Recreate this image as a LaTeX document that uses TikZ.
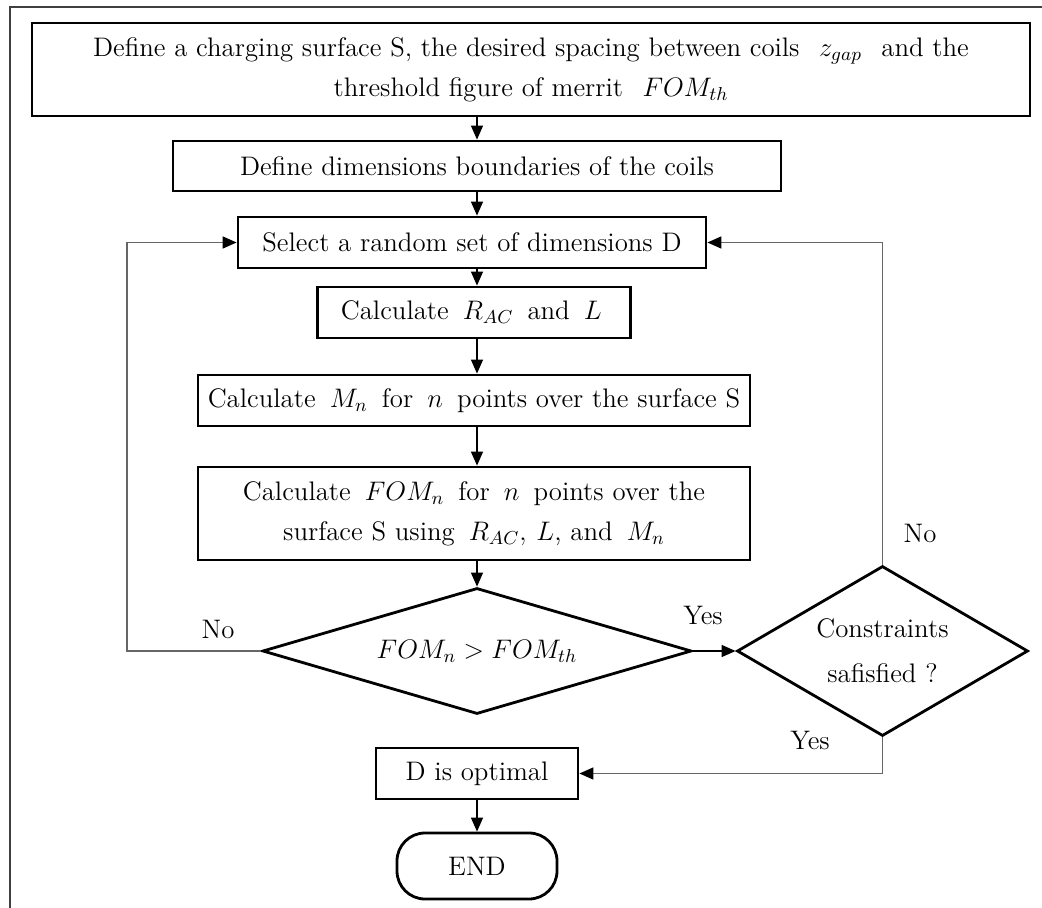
\RequirePackage{fix-cm}
\documentclass[tikz,border=0pt]{standalone}
\usetikzlibrary{shapes.geometric,arrows.meta}
\newcommand{\mm}[1]{\hspace{0.2em}$#1$\hspace{0.2em}}
\newcommand{\mw}[1]{\hspace{0.4em}$#1$\hspace{0.4em}}
\begin{document}
\begin{tikzpicture}[x=0.5pt,y=-0.5pt,
  every node/.style={font=\fontsize{13.4}{20}\selectfont},
  box/.style={draw,line width=1.4pt,inner sep=0pt,align=center},
  dec/.style={draw,line width=1.4pt,shape=diamond,inner sep=0pt,align=center},
  term/.style={draw,line width=1.4pt,rounded corners=14pt,inner sep=0pt},
  arr/.style={line width=0.7pt,-{Triangle[length=7pt,width=6pt]}},
  back/.style={line width=0.8pt,draw=black!60,-{Triangle[length=7pt,width=6pt,fill=black,color=black]}},
  lbl/.style={inner sep=0pt}]
\useasboundingbox (0,0) rectangle (1042,908);
\draw[line width=1pt,black!75] (10,908) -- (10,7) -- (1042,7);
\coordinate (cx) at (477,0);
\coordinate (lx) at (127,0);
\node[box,minimum width=499pt,minimum height=46.5pt] (b1) at (531,69.5)
  {Define a charging surface S, the desired spacing between coils \mw{z_{gap}} and the\\
   threshold figure of merrit \mw{FOM_{th}}};
\node[box,minimum width=304pt,minimum height=25pt] (b2) at (477,166)
  {Define dimensions boundaries of the coils};
\node[box,minimum width=234pt,minimum height=25.5pt] (b3) at (472,242.5)
  {Select a random set of dimensions D};
\node[box,minimum width=156.5pt,minimum height=25.5pt] (b4) at (474,312.5)
  {Calculate \mm{R_{AC}} and \mm{L}};
\node[box,minimum width=276pt,minimum height=25.5pt] (b5) at (474,400.5)
  {Calculate \mm{M_n} for \mm{n} points over the surface S};
\node[box,minimum width=276pt,minimum height=46.5pt] (b6) at (474,513.5)
  {Calculate \mm{FOM_n} for \mm{n} points over the\\
   surface S using \mm{R_{AC},}\,$L$, and \mm{M_n}};
\node[dec,aspect=3.4,minimum width=214.5pt,minimum height=63pt] (d1) at (477,651)
  {$FOM_n > FOM_{th}$};
\node[dec,aspect=1.71,minimum width=145.5pt,minimum height=85pt,
  font=\fontsize{13.4}{22.5}\selectfont] (d2) at (882.5,651)
  {Constraints\\ safisfied ?};
\node[box,minimum width=101pt,minimum height=25.5pt] (b7) at (477,773.5)
  {D is optimal};
\node[term,minimum width=80pt,minimum height=33pt] (end) at (477,866)
  {END};
\draw[arr] (cx |- b1.south) -- (cx |- b2.north);
\draw[arr] (cx |- b2.south) -- (cx |- b3.north);
\draw[arr] (cx |- b3.south) -- (cx |- b4.north);
\draw[arr] (cx |- b4.south) -- (cx |- b5.north);
\draw[arr] (cx |- b5.south) -- (cx |- b6.north);
\draw[arr] (cx |- b6.south) -- (d1.north);
\draw[arr] (d1.east) -- (d2.west);
\draw[back] (d1.west) -- (d1.west -| lx) -- (lx |- b3.west) -- (b3.west);
\draw[back] (d2.north) |- (b3.east);
\draw[back] (d2.south) |- (b7.east);
\draw[arr] (b7.south) -- (end.north);
\node[lbl] (lno1) at (218,629) {No};
\node[lbl] (lyes1) at (703,615) {Yes};
\node[lbl] (lno2) at (920,533) {No};
\node[lbl] (lyes2) at (810,740) {Yes};
\end{tikzpicture}
\end{document}
